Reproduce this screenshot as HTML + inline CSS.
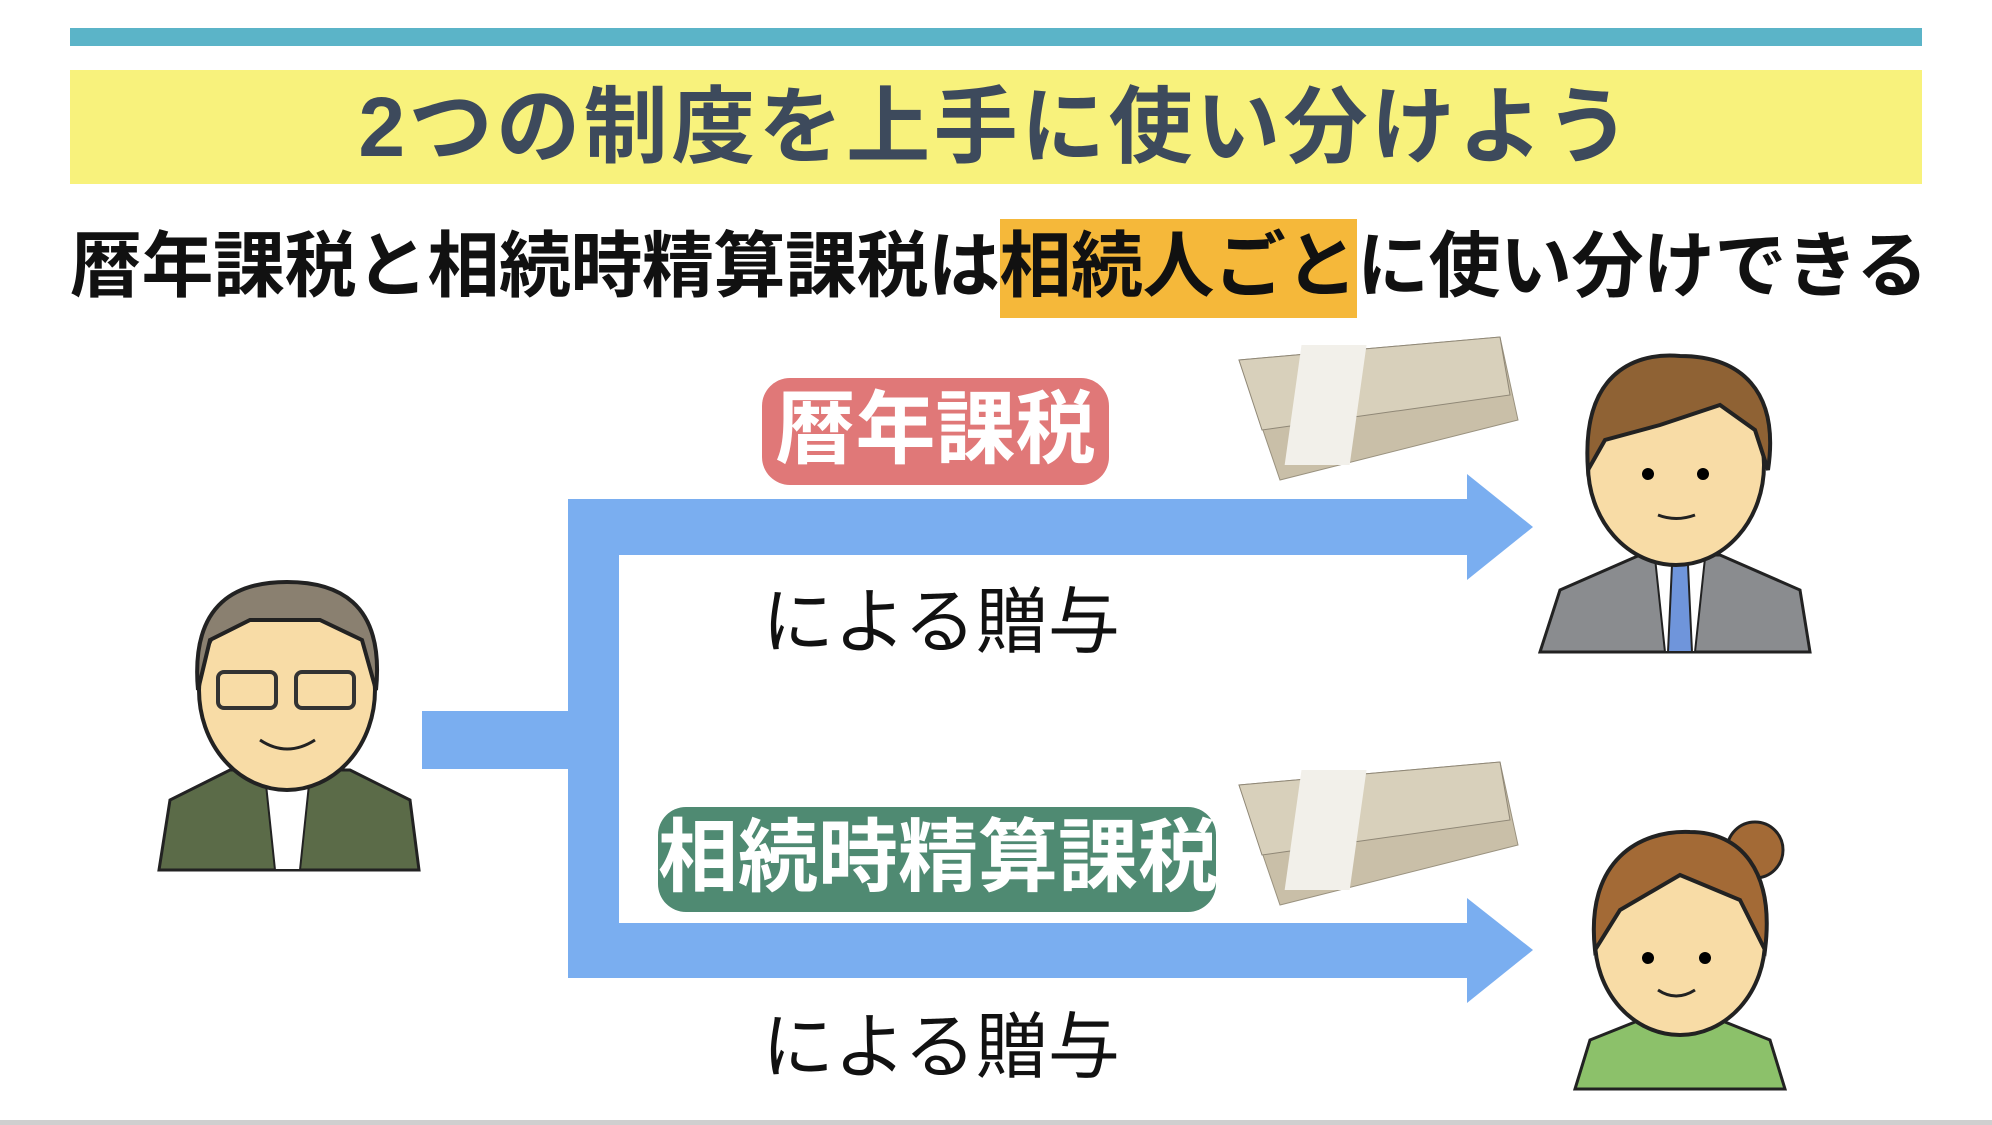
<!DOCTYPE html>
<html><head><meta charset="utf-8"><style>
body{margin:0;width:1992px;height:1125px;background:#fff;position:relative;overflow:hidden;font-family:"Liberation Sans","Noto Sans CJK JP",sans-serif;}
.t{position:absolute;white-space:nowrap;font-weight:bold;line-height:1;}
</style></head><body>
<svg width="1992" height="1125" style="position:absolute;left:0;top:0">
<rect x="70" y="28" width="1852" height="18" fill="#5bb4c8"/>
<rect x="70" y="70" width="1852" height="114" fill="#f8f27c"/>
<rect x="762" y="378" width="347" height="107" rx="28" fill="#e07878"/>
<rect x="658" y="807" width="558" height="105" rx="28" fill="#4f8a72"/>
<g fill="#7aaef0">
<rect x="422" y="711" width="160" height="58"/>
<rect x="568" y="499" width="51" height="479"/>
<rect x="568" y="499" width="900" height="56"/>
<polygon points="1467,474 1533,527 1467,580"/>
<rect x="568" y="923" width="900" height="55"/>
<polygon points="1467,898 1533,950 1467,1003"/>
</g>
<g id="m">
<polygon points="1239,360 1500,337 1518,420 1280,480" fill="#c9bfa8" stroke="#9a927f"/>
<polygon points="1239,360 1500,337 1510,395 1262,430" fill="#d8d0bb" stroke="#8f8776"/>
<rect x="1350" y="345" width="65" height="120" fill="#f2f0ea" transform="skewX(-8)"/>
</g>
<use href="#m" transform="translate(0,425)"/>
<path d="M1540,652 L1560,590 L1640,555 L1720,555 L1800,590 L1810,652 Z" fill="#8a8c8f" stroke="#222" stroke-width="3"/>
<polygon points="1655,558 1705,558 1695,652 1665,652" fill="#fff" stroke="#222" stroke-width="2"/>
<polygon points="1672,565 1688,565 1692,652 1668,652" fill="#6f95db" stroke="#222" stroke-width="2"/>
<ellipse cx="1676" cy="465" rx="88" ry="100" fill="#f8dca6" stroke="#222" stroke-width="4"/>
<path d="M1588,470 C1580,360 1650,353 1680,356 C1740,356 1780,390 1768,470 L1755,430 L1720,405 L1660,425 L1605,440 Z" fill="#8f6234" stroke="#222" stroke-width="4"/>
<circle cx="1648" cy="474" r="6"/><circle cx="1703" cy="474" r="6"/>
<path d="M1658,515 Q1676,522 1695,515" stroke="#222" stroke-width="3" fill="none"/>
<path d="M1575,1089 L1590,1040 L1640,1020 L1720,1020 L1770,1040 L1785,1089 Z" fill="#8cc16a" stroke="#222" stroke-width="3"/>
<ellipse cx="1680" cy="940" rx="85" ry="95" fill="#f8dca6" stroke="#222" stroke-width="4"/>
<circle cx="1755" cy="850" r="28" fill="#a36a36" stroke="#222" stroke-width="3"/>
<path d="M1595,950 C1585,860 1640,830 1690,832 C1740,832 1775,870 1765,950 L1740,900 L1680,875 L1620,910 Z" fill="#a36a36" stroke="#222" stroke-width="4"/>
<circle cx="1648" cy="958" r="6"/><circle cx="1705" cy="958" r="6"/>
<path d="M1658,990 Q1676,1002 1695,990" stroke="#222" stroke-width="3" fill="none"/>
<path d="M159,870 L170,800 L230,770 L350,770 L410,800 L419,870 Z" fill="#5b6b48" stroke="#222" stroke-width="3"/>
<polygon points="265,775 310,775 300,870 275,870" fill="#fff" stroke="#222" stroke-width="2"/>
<ellipse cx="287" cy="690" rx="88" ry="100" fill="#f8dca6" stroke="#222" stroke-width="4"/>
<path d="M198,690 C190,600 240,582 287,582 C335,582 385,600 376,690 L362,640 L320,620 L250,620 L210,640 Z" fill="#8a8070" stroke="#222" stroke-width="4"/>
<rect x="218" y="672" width="58" height="36" rx="6" fill="none" stroke="#333" stroke-width="4"/>
<rect x="296" y="672" width="58" height="36" rx="6" fill="none" stroke="#333" stroke-width="4"/>
<path d="M260,740 Q287,758 315,740" stroke="#222" stroke-width="3" fill="none"/>
<rect x="0" y="1120" width="1992" height="5" fill="#cfcfcf"/>
</svg>
<div class="t" style="left:0;width:1992px;text-align:center;top:85px;font-size:84px;letter-spacing:3.5px;color:#3d4a5c;">2つの制度を上手に使い分けよう</div>
<div class="t" style="left:70px;top:231px;font-size:72px;letter-spacing:-0.5px;color:#111;">暦年課税と相続時精算課税は<span style="background:#f5b83a;padding:8px 0 11px;">相続人ごと</span>に使い分けできる</div>
<div class="t" style="left:762px;width:347px;text-align:center;top:390px;font-size:80px;color:#fff;">暦年課税</div>
<div class="t" style="left:658px;width:558px;text-align:center;top:818px;font-size:80px;color:#fff;">相続時精算課税</div>
<div class="t" style="left:762px;top:587px;font-size:72px;color:#111;font-weight:normal;">による贈与</div>
<div class="t" style="left:762px;top:1012px;font-size:72px;color:#111;font-weight:normal;">による贈与</div>
</body></html>
